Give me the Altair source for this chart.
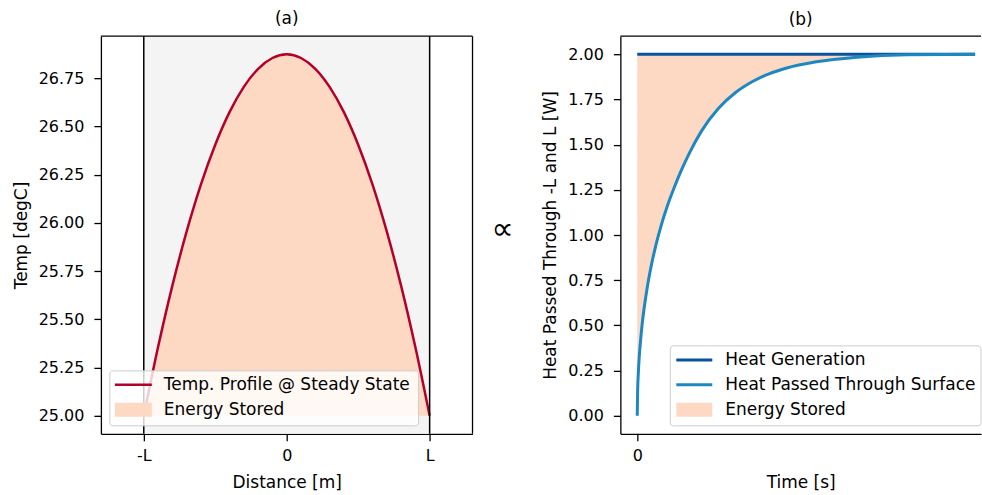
import altair as alt
import pandas as pd

# ---------------- data: panel (a) ----------------
pos = [-1.0, -0.9, -0.8, -0.7, -0.6, -0.5, -0.4, -0.3, -0.2, -0.1, 0.0,
       0.1, 0.2, 0.3, 0.4, 0.5, 0.6, 0.7, 0.8, 0.9, 1.0]
temp = [25.0, 25.356, 25.675, 25.956, 26.2, 26.406, 26.575, 26.706, 26.8, 26.856, 26.875,
        26.856, 26.8, 26.706, 26.575, 26.406, 26.2, 25.956, 25.675, 25.356, 25.0]
base_temp = 25.0
slab_edges = [-1.0, 1.0]
xa_tick_values = [-1, 0, 1]
xa_tick_labels = ["-L", "0", "L"]
ya_ticks = [25.0, 25.25, 25.5, 25.75, 26.0, 26.25, 26.5, 26.75]
legend_a_labels = ["Temp. Profile @ Steady State", "Energy Stored"]

# ---------------- data: panel (b) ----------------
time = [0, 0.01, 0.03, 0.06, 0.1, 0.15, 0.2, 0.3, 0.4, 0.55, 0.7, 0.9, 1.1, 1.3,
        1.55, 1.9, 2.4, 2.9, 3.4, 3.9, 4.4, 5.3, 6.5, 8.0, 10.0]
q_surface = [0, 0.13, 0.23, 0.33, 0.42, 0.515, 0.59, 0.715, 0.817, 0.943, 1.048, 1.166,
             1.266, 1.356, 1.456, 1.575, 1.70, 1.787, 1.848, 1.892, 1.923, 1.9585, 1.984,
             1.9975, 2.0]
q_gen = 2.0
gen_time = [0, 10.0]
xb_tick_values = [0]
yb_ticks = [0.0, 0.25, 0.5, 0.75, 1.0, 1.25, 1.5, 1.75, 2.0]
legend_b_labels = ["Heat Generation", "Heat Passed Through Surface", "Energy Stored"]

# ---------------- styling ----------------
FONT = "DejaVu Sans"
RED = "#b2002a"
PEACH = "#fdd9c4"
DARKBLUE = "#0a529e"
LIGHTBLUE = "#1d87c2"
BG = "#f4f4f4"
LEG_FS = 17
WA, WB, H = 372, 361, 398

df_a = pd.DataFrame({"pos": pos, "temp": temp, "base": [base_temp] * len(pos)})
df_edges = pd.DataFrame({"edge": slab_edges})
df_bg = pd.DataFrame({"x0": [slab_edges[0]], "x1": [slab_edges[1]]})
df_b = pd.DataFrame({"t": time, "q": q_surface, "g": [q_gen] * len(time)})
df_gen = pd.DataFrame({"t": gen_time, "q": [q_gen] * len(gen_time)})
one = pd.DataFrame({"k": [0]})

label_expr_a = ("datum.value == {0} ? '{1}' : datum.value == {2} ? '{3}' : '{4}'"
                .format(xa_tick_values[0], xa_tick_labels[0],
                        xa_tick_values[2], xa_tick_labels[2], xa_tick_labels[1]))

xa_scale = alt.Scale(domain=[-1.3, 1.3], nice=False, zero=False)
ya_scale = alt.Scale(domain=[24.906, 26.969], nice=False, zero=False)
xa_axis = alt.Axis(values=xa_tick_values, labelExpr=label_expr_a, title="Distance [m]")
ya_axis = alt.Axis(values=ya_ticks, format=".2f", title="Temp [degC]")


def XA(field):
    return alt.X(field, type="quantitative", scale=xa_scale, axis=xa_axis)


def YA(field):
    return alt.Y(field, type="quantitative", scale=ya_scale, axis=ya_axis)


bg = alt.Chart(df_bg).mark_rect(color=BG).encode(
    x=XA("x0"), x2="x1", y=alt.value(0), y2=alt.value(H))
area_a = alt.Chart(df_a).mark_area(color=PEACH, opacity=1, interpolate="monotone").encode(
    x=XA("pos"), y=YA("temp"), y2="base")
line_a = alt.Chart(df_a).mark_line(color=RED, strokeWidth=2.5, interpolate="monotone").encode(
    x=XA("pos"), y=YA("temp"))
edges = alt.Chart(df_edges).mark_rule(color="black", strokeWidth=1.5).encode(x=XA("edge"))
top_a = alt.Chart(one).mark_rule(color="black", strokeWidth=1.3).encode(
    x=alt.value(0), x2=alt.value(WA), y=alt.value(0))
right_a = alt.Chart(one).mark_rule(color="black", strokeWidth=1.3).encode(
    x=alt.value(WA), y=alt.value(0), y2=alt.value(H))

leg_box_a = alt.Chart(one).mark_rect(fill="white", fillOpacity=0.8, stroke="#cccccc",
                                      strokeWidth=1, cornerRadius=3).encode(
    x=alt.value(9), x2=alt.value(318), y=alt.value(335), y2=alt.value(390))
leg_line_a = alt.Chart(one).mark_rule(color=RED, strokeWidth=2.5).encode(
    x=alt.value(14), x2=alt.value(51), y=alt.value(349))
leg_patch_a = alt.Chart(one).mark_rect(color=PEACH).encode(
    x=alt.value(14), x2=alt.value(51), y=alt.value(367), y2=alt.value(381))
leg_t1_a = alt.Chart(one).mark_text(text=legend_a_labels[0], align="left", baseline="middle",
                                     font=FONT, fontSize=LEG_FS, color="black").encode(
    x=alt.value(63), y=alt.value(349))
leg_t2_a = alt.Chart(one).mark_text(text=legend_a_labels[1], align="left", baseline="middle",
                                     font=FONT, fontSize=LEG_FS, color="black").encode(
    x=alt.value(63), y=alt.value(374))

panel_a = alt.layer(bg, area_a, line_a, edges, top_a, right_a,
                    leg_box_a, leg_line_a, leg_patch_a, leg_t1_a, leg_t2_a).properties(
    width=WA, height=H,
    title=alt.TitleParams("(a)", fontSize=17, fontWeight="normal", font=FONT, offset=7))

# ---------------- panel (b) ----------------
xb_scale = alt.Scale(domain=[-0.5, -0.5 + WB * 11.0 / 372.0], nice=False, zero=False)
yb_scale = alt.Scale(domain=[-0.1, 2.1], nice=False, zero=False)
xb_axis = alt.Axis(values=xb_tick_values, format="d", title="Time [s]")
yb_axis = alt.Axis(values=yb_ticks, format=".2f", title="Heat Passed Through -L and L [W]")


def XB(field):
    return alt.X(field, type="quantitative", scale=xb_scale, axis=xb_axis)


def YB(field):
    return alt.Y(field, type="quantitative", scale=yb_scale, axis=yb_axis)


area_b = alt.Chart(df_b).mark_area(color=PEACH, opacity=1, interpolate="monotone").encode(
    x=XB("t"), y=YB("q"), y2="g")
gen_line = alt.Chart(df_gen).mark_line(color=DARKBLUE, strokeWidth=3).encode(
    x=XB("t"), y=YB("q"))
surf_line = alt.Chart(df_b).mark_line(color=LIGHTBLUE, strokeWidth=3, interpolate="monotone").encode(
    x=XB("t"), y=YB("q"))
top_b = alt.Chart(one).mark_rule(color="black", strokeWidth=1.3).encode(
    x=alt.value(0), x2=alt.value(WB), y=alt.value(0))
prop_sign = alt.Chart(one).mark_text(text="\u221d", font=FONT, fontSize=31, color="black",
                                      align="center", baseline="middle").encode(
    x=alt.value(-118), y=alt.value(194))

leg_box_b = alt.Chart(one).mark_rect(fill="white", fillOpacity=0.8, stroke="#cccccc",
                                      strokeWidth=1, cornerRadius=3).encode(
    x=alt.value(50), x2=alt.value(WB), y=alt.value(310), y2=alt.value(390))
leg_l1_b = alt.Chart(one).mark_rule(color=DARKBLUE, strokeWidth=3).encode(
    x=alt.value(56), x2=alt.value(92), y=alt.value(324))
leg_l2_b = alt.Chart(one).mark_rule(color=LIGHTBLUE, strokeWidth=3).encode(
    x=alt.value(56), x2=alt.value(92), y=alt.value(349))
leg_patch_b = alt.Chart(one).mark_rect(color=PEACH).encode(
    x=alt.value(56), x2=alt.value(92), y=alt.value(367), y2=alt.value(381))
leg_txt_b = [
    alt.Chart(one).mark_text(text=lab, align="left", baseline="middle", font=FONT,
                             fontSize=LEG_FS, color="black").encode(x=alt.value(105), y=alt.value(yy))
    for lab, yy in zip(legend_b_labels, [324, 349, 374])
]

panel_b = alt.layer(area_b, gen_line, surf_line, top_b, prop_sign,
                    leg_box_b, leg_l1_b, leg_l2_b, leg_patch_b, *leg_txt_b).properties(
    width=WB, height=H,
    title=alt.TitleParams("(b)", fontSize=17, fontWeight="normal", font=FONT, offset=7))

chart = alt.hconcat(panel_a, panel_b, spacing=148, bounds="flush").properties(
    padding={"left": 12, "top": 10, "right": 0, "bottom": 0},
    background="white"
).configure_view(stroke=None).configure_title(
    font=FONT, fontSize=17, fontWeight="normal", color="black"
).configure_axis(
    grid=False, labelFont=FONT, titleFont=FONT, labelFontSize=16, titleFontSize=17,
    titleFontWeight="normal", labelColor="black", titleColor="black",
    domainColor="black", tickColor="black", domainWidth=1.3, tickWidth=1.3, tickSize=7
).configure_axisX(labelPadding=7, titlePadding=11
).configure_axisY(labelPadding=10, titlePadding=8)

chart.save("out.html", embed_options={"renderer": "svg", "actions": False})
